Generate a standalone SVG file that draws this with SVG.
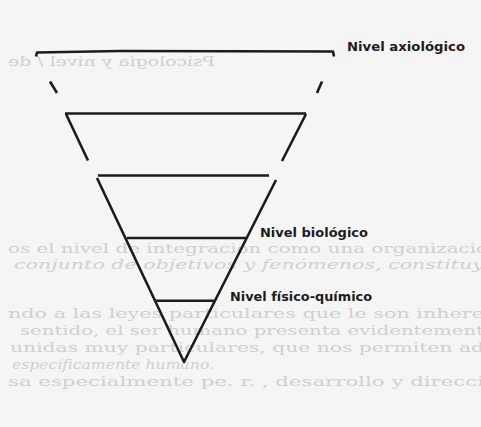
<svg xmlns="http://www.w3.org/2000/svg" width="481" height="427" viewBox="0 0 481 427">
  <style>
    .ln { stroke: #1c1c1c; stroke-width: 2.6; fill: none; stroke-linecap: butt; stroke-linejoin: round; }
    .lbl { font-family: "DejaVu Sans", "Liberation Sans", sans-serif; font-weight: bold; font-size: 11.5px; fill: #1c1c1c; }
    .bg { font-family: "DejaVu Serif", "Liberation Serif", serif; font-size: 13px; fill: #d0d0d0; }
  </style>
  <rect x="0" y="0" width="481" height="427" fill="#f5f5f5"/>

  <g id="bleed-through">
    <text class="bg" transform="scale(-1,1)" x="-215" y="66" textLength="207" lengthAdjust="spacingAndGlyphs" fill="#dcdcdc">Psicología y nivel / de</text>
    <text class="bg" x="8" y="253" textLength="480" lengthAdjust="spacingAndGlyphs">os el nivel de integración como una organizació</text>
    <text class="bg" x="14" y="269" textLength="470" lengthAdjust="spacingAndGlyphs" font-style="italic">conjunto de objetivos y fenómenos, constituy</text>
    <text class="bg" x="8" y="318" textLength="476" lengthAdjust="spacingAndGlyphs">ndo a las leyes particulares que le son inhere</text>
    <text class="bg" x="20" y="335" textLength="464" lengthAdjust="spacingAndGlyphs">sentido, el ser humano presenta evidentement</text>
    <text class="bg" x="10" y="352" textLength="474" lengthAdjust="spacingAndGlyphs">unidas muy particulares, que nos permiten ad</text>
    <text class="bg" x="12" y="369" textLength="202" lengthAdjust="spacingAndGlyphs" font-style="italic">específicamente humano.</text>
    <text class="bg" x="8" y="386" textLength="476" lengthAdjust="spacingAndGlyphs">sa especialmente pe. r. , desarrollo y direcci</text>
  </g>

  <g id="connectors">
    <path class="ln" d="M36,56.5 L37,52.5 L120,51 L333,51.5 L334,56.5"/>
    <line class="ln" x1="50" y1="81.5" x2="57" y2="93" stroke-width="3.2"/>
    <line class="ln" x1="322" y1="81.5" x2="317" y2="93" stroke-width="3.2"/>
    <line class="ln" x1="65" y1="113.5" x2="306" y2="113.5"/>
    <line class="ln" x1="66" y1="114" x2="88" y2="160.5"/>
    <line class="ln" x1="306" y1="114" x2="282" y2="161"/>
    <line class="ln" x1="98" y1="175.5" x2="269" y2="175.5"/>
    <path class="ln" d="M97,178 L184,362 L276,180"/>
    <line class="ln" x1="127" y1="238" x2="246" y2="238"/>
    <line class="ln" x1="155" y1="300.7" x2="214" y2="300.7"/>
  </g>

  <g id="nivel-axiologico">
    <text class="lbl" x="347" y="51" textLength="118" lengthAdjust="spacingAndGlyphs">Nivel axiológico</text>
  </g>
  <g id="nivel-biologico">
    <text class="lbl" x="260" y="236.5" textLength="108" lengthAdjust="spacingAndGlyphs">Nivel biológico</text>
  </g>
  <g id="nivel-fisico-quimico">
    <text class="lbl" x="230" y="301" textLength="142" lengthAdjust="spacingAndGlyphs">Nivel físico-químico</text>
  </g>
</svg>
